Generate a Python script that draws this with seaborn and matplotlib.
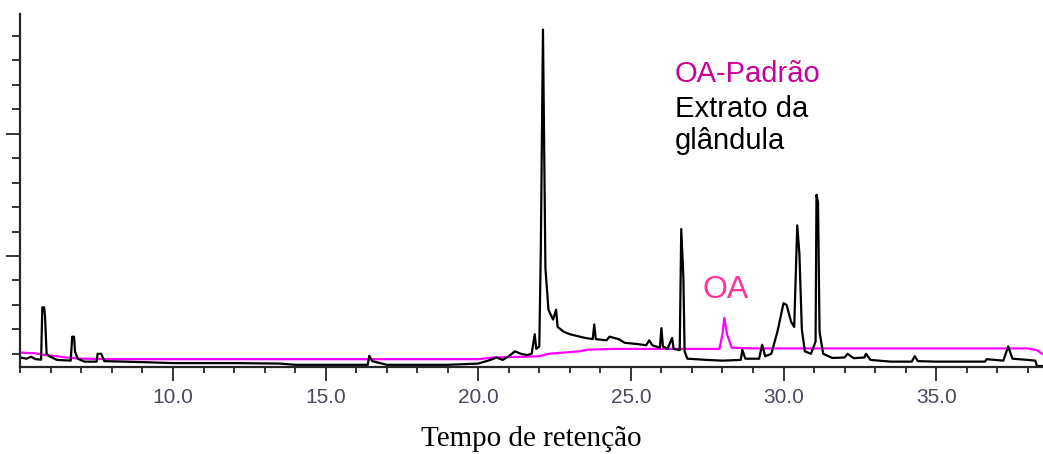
import numpy as np
import pandas as pd
import matplotlib
matplotlib.use("Agg")
import matplotlib.pyplot as plt
import seaborn as sns
from matplotlib.ticker import MultipleLocator, FixedLocator

# --- data (retention time in min, relative intensity) ---
extrato_t = [5.0, 5.2, 5.35, 5.5, 5.68, 5.72, 5.78, 5.81, 5.86, 5.95, 6.2, 6.65, 6.7, 6.76,
             6.79, 6.88, 7.1, 7.5, 7.53, 7.65, 7.75, 9.0, 10.0, 12.0, 13.5, 14.0, 15.0,
             16.38, 16.43, 16.53, 17.0, 18.0, 19.0, 20.0, 20.4, 20.6, 20.8, 21.0, 21.2,
             21.4, 21.6, 21.75, 21.85, 21.9, 22.0, 22.05, 22.12, 22.2, 22.3, 22.45,
             22.55, 22.6, 22.8, 23.0, 23.5, 23.75, 23.8, 23.85, 24.2, 24.3, 24.6, 24.8,
             25.2, 25.5, 25.6, 25.7, 25.95, 26.0, 26.05, 26.2, 26.35, 26.4, 26.6, 26.65,
             26.72, 26.76, 26.85, 27.5, 28.0, 28.6, 28.65, 28.75, 29.2, 29.3, 29.4,
             29.6, 29.8, 30.0, 30.1, 30.25, 30.35, 30.45, 30.52, 30.6, 30.7, 30.9,
             31.05, 31.08, 31.13, 31.18, 31.3, 31.6, 32.0, 32.1, 32.3, 32.65, 32.7,
             32.85, 33.5, 34.2, 34.3, 34.4, 35.0, 36.0, 36.6, 36.65, 37.2, 37.36,
             37.5, 38.0, 38.25, 38.3, 38.5]
extrato_y = [0.85, 0.80, 0.88, 0.78, 0.76, 2.9, 2.9, 2.5, 1.0, 0.9, 0.75, 0.72, 1.7, 1.7,
             1.1, 0.8, 0.68, 0.68, 1.0, 1.0, 0.7, 0.66, 0.62, 0.62, 0.6, 0.55, 0.55,
             0.55, 0.92, 0.7, 0.55, 0.55, 0.55, 0.6, 0.75, 0.85, 0.75, 0.9, 1.1,
             1.0, 0.95, 1.0, 1.8, 1.2, 1.3, 5.3, 14.25, 4.5, 2.8, 2.4,
             2.8, 2.1, 1.9, 1.8, 1.65, 1.6, 2.2, 1.6, 1.55, 1.7, 1.6, 1.45,
             1.4, 1.35, 1.55, 1.35, 1.25, 2.05, 1.3, 1.2, 1.65, 1.2, 1.15, 6.1,
             4.1, 1.1, 0.8, 0.75, 0.72, 0.75, 1.16, 0.8, 0.8, 1.37, 0.9,
             1.0, 1.9, 3.07, 3.0, 2.3, 2.1, 6.25, 5.1, 2.0, 1.1, 1.0,
             1.5, 7.5, 7.2, 1.9, 1.0, 0.83, 0.85, 1.0, 0.82, 0.85, 1.0,
             0.75, 0.68, 0.68, 0.9, 0.7, 0.68, 0.68, 0.68, 0.78, 0.72, 1.3,
             0.8, 0.75, 0.72, 0.5, 0.5]

padrao_t = [5.0, 5.5, 5.8, 6.2, 6.5, 7.0, 8.0, 10.0, 12.0, 14.0, 16.0, 18.0, 20.0,
            20.5, 21.5, 22.0, 22.3, 22.8, 23.3, 23.6, 24.5, 26.0, 27.0, 27.9, 28.0,
            28.06, 28.15, 28.3, 29.0, 30.0, 32.0, 34.0, 36.0, 38.0, 38.3, 38.5]
padrao_y = [1.05, 1.02, 0.95, 0.9, 0.85, 0.8, 0.78, 0.78, 0.78, 0.78, 0.78, 0.78, 0.78,
            0.85, 0.88, 0.9, 1.0, 1.05, 1.1, 1.17, 1.2, 1.2, 1.2, 1.2, 1.8,
            2.47, 1.8, 1.25, 1.22, 1.22, 1.22, 1.22, 1.22, 1.22, 1.15, 0.98]

xtick_labels = ["10.0", "15.0", "20.0", "25.0", "30.0", "35.0"]
xtick_values = [10.0, 15.0, 20.0, 25.0, 30.0, 35.0]

df_e = pd.DataFrame({"t": extrato_t, "y": extrato_y})
df_p = pd.DataFrame({"t": padrao_t, "y": padrao_y})

sns.set_style("ticks")
plt.rcParams["font.family"] = ["Liberation Sans", "DejaVu Sans"]

fig = plt.figure(figsize=(10.43, 4.54), dpi=100)
ax = fig.add_axes([0.0195, 0.1916, 0.9805, 0.778])

sns.lineplot(data=df_p, x="t", y="y", ax=ax, color="#FF00FF", lw=1.6,
             sort=False, estimator=None)
sns.lineplot(data=df_e, x="t", y="y", ax=ax, color="black", lw=1.6,
             sort=False, estimator=None)

ax.set_xlim(5.0, 38.5)
ax.set_ylim(0.46, 14.9)

for s in ["top", "right"]:
    ax.spines[s].set_visible(False)
ax.spines["left"].set_linewidth(1.6)
ax.spines["bottom"].set_linewidth(1.6)

ax.xaxis.set_major_locator(FixedLocator(xtick_values))
ax.set_xticklabels(xtick_labels)
ax.xaxis.set_minor_locator(MultipleLocator(1.0))
ax.tick_params(axis="x", which="major", direction="out", length=10, width=1.3,
               labelsize=15, labelcolor="#4a4a5c", pad=5)
ax.tick_params(axis="x", which="minor", direction="out", length=4.5, width=1.3)

ax.yaxis.set_major_locator(FixedLocator([5, 10]))
ax.yaxis.set_minor_locator(FixedLocator([1, 2, 3, 4, 6, 7, 8, 9, 11, 12, 13, 14]))
ax.tick_params(axis="y", which="major", direction="out", length=10, width=1.3,
               labelleft=False)
ax.tick_params(axis="y", which="minor", direction="out", length=6, width=1.3)

ax.set_xlabel("Tempo de retenção", family=["Liberation Serif", "DejaVu Serif"],
              fontsize=21, color="black", labelpad=14)
ax.set_ylabel("")

fig.text(675 / 1043, 1 - 74 / 454, "OA-Padrão", color="#CC0099", fontsize=21,
         ha="left", va="center")
fig.text(675 / 1043, 1 - 109 / 454, "Extrato da", color="black", fontsize=21,
         ha="left", va="center")
fig.text(675 / 1043, 1 - 141 / 454, "glândula", color="black", fontsize=21,
         ha="left", va="center")
ax.text(28.1, 3.6, "OA", color="#FF3399", fontsize=23, ha="center", va="center")

fig.savefig("out.png", dpi=100)
